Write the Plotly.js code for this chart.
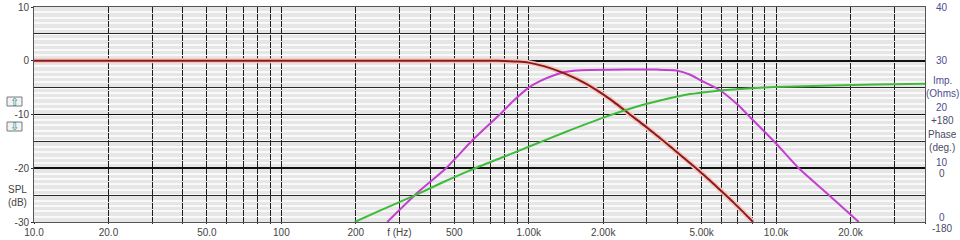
<!DOCTYPE html>
<html><head><meta charset="utf-8">
<script src="https://cdn.plot.ly/plotly-3.0.1.min.js"></script>
<style>html,body{margin:0;padding:0;background:#fff}#chart{width:960px;height:240px}</style>
</head><body><div id="chart"></div>
<script>
// ---- data ----
const xTickVals = [10,20,30,40,50,60,70,80,90,100,200,300,400,500,600,700,800,900,1000,2000,3000,4000,5000,6000,7000,8000,9000,10000,20000,30000,40000];
const xTickText = ['10.0','20.0','','','50.0','','','','','100','200','f (Hz)','','500','','','','','1.00k','2.00k','','','5.00k','','','','','10.0k','20.0k','',''];
const splTickVals = [-30,-20,-10,0,10];
const splTickText = ['-30','-20','-10','0','10'];
const splHalfTicks = [-25,-15,-5,5];
const impTickVals = [0,10,20,30,40];
const impTickText = ['0','10','20','30','40'];
const phaseTickAt = [0,10,20];
const phaseTickText = ['-180','0','+180'];

// red: low-pass SPL (dB)
const redFreq = [10,200,500,700,800,900,1000,1150,1370,1600,1875,2200,2550,3000,3460,4000,4750,5500,6460,7200,8070];
const redSpl  = [0,0,0,0,-0.05,-0.15,-0.35,-1.0,-2.2,-3.6,-5.4,-7.6,-9.9,-12.4,-14.7,-17.1,-20,-22.6,-25.6,-27.7,-30];
// magenta: band-pass SPL (dB)
const magFreq = [268,352,463,592,760,870,1000,1100,1250,1400,1550,1750,2500,3300,3950,4500,4890,5890,7000,7930,10000,12360,16000,21600];
const magSpl  = [-30,-24.7,-20,-14.8,-10.1,-7.4,-5.0,-3.9,-2.8,-2.1,-1.8,-1.7,-1.65,-1.65,-1.8,-2.6,-3.5,-5.4,-8.2,-10.7,-15.4,-20,-24.6,-30];
// green: impedance (Ohms)
const grnFreq = [198,250,352,450,592,780,1000,1400,2055,2700,3460,4500,5500,6460,7960,10000,16800,25000,40000];
const grnImp  = [0,2.1,5.1,7.4,9.8,12.0,14.0,16.7,19.6,21.4,22.7,23.8,24.3,24.6,24.9,25.1,25.4,25.6,25.7];

// ---- layout helpers ----
const W = 960, H = 240;
const M = {l:34, r:35, t:7, b:18};
const PW = W - M.l - M.r, PH = H - M.t - M.b;
const px2x = p => (p - M.l) / PW;
const px2y = p => 1 - (p - M.t) / PH;
const FONT = 'Liberation Sans, Arial, sans-serif';

const traces = [
  {x:[10], y:[null], yaxis:'y3', type:'scatter', mode:'lines', hoverinfo:'skip'},
  {x: redFreq, y: redSpl, type:'scatter', mode:'lines', line:{color:'#f3c6c6', width:5, shape:'spline', smoothing:0.6}, hoverinfo:'skip'},
  {x: magFreq, y: magSpl, type:'scatter', mode:'lines', line:{color:'#c23fcf', width:2, shape:'spline', smoothing:0.6}},
  {x: redFreq, y: redSpl, type:'scatter', mode:'lines', line:{color:'#8c1a14', width:2, shape:'spline', smoothing:0.6}},
  {x: grnFreq, y: grnImp, yaxis:'y2', type:'scatter', mode:'lines', line:{color:'#3fbb3a', width:2, shape:'spline', smoothing:0.6}}
];

const annotations = [];
annotations.push({xref:'paper', yref:'paper', x:px2x(17), y:px2y(196), text:'SPL<br>(dB)', showarrow:false,
  font:{family:FONT, size:10, color:'#444'}, xanchor:'center', yanchor:'middle'});
const impShift = [5,6,7,0,0];
impTickVals.forEach((v,i)=>annotations.push({xref:'paper', yref:'y2', x:px2x(942), y:v, yshift:impShift[i],
  text:impTickText[i], showarrow:false, font:{family:FONT, size:10, color:'#4d4d8f'}, xanchor:'center', yanchor:'middle'}));
const phShift = [-6,-5,-6];
phaseTickAt.forEach((v,i)=>annotations.push({xref:'paper', yref:'y2', x:px2x(942), y:v, yshift:phShift[i],
  text:phaseTickText[i], showarrow:false, font:{family:FONT, size:10, color:'#4a4a66'}, xanchor:'center', yanchor:'middle'}));
annotations.push({xref:'paper', yref:'paper', x:px2x(942), y:px2y(87), text:'Imp.<br>(Ohms)', showarrow:false,
  font:{family:FONT, size:10, color:'#4d4d8f'}, xanchor:'center', yanchor:'middle'});
annotations.push({xref:'paper', yref:'paper', x:px2x(942), y:px2y(141), text:'Phase<br>(deg.)', showarrow:false,
  font:{family:FONT, size:10, color:'#4a4a66'}, xanchor:'center', yanchor:'middle'});
annotations.push({xref:'paper', yref:'paper', x:px2x(14.5), y:px2y(102), text:'⇧', showarrow:false,
  font:{family:'DejaVu Sans', size:11, color:'#158a8a'}, xanchor:'center', yanchor:'middle'});
annotations.push({xref:'paper', yref:'paper', x:px2x(14.5), y:px2y(126), text:'⇩', showarrow:false,
  font:{family:'DejaVu Sans', size:11, color:'#158a8a'}, xanchor:'center', yanchor:'middle'});

const shapes = [
  {type:'rect', xref:'paper', yref:'paper', x0:px2x(7), x1:px2x(22), y0:px2y(106), y1:px2y(97), fillcolor:'#f2f2f2', line:{color:'#7a7a7a', width:1}},
  {type:'rect', xref:'paper', yref:'paper', x0:px2x(7), x1:px2x(22), y0:px2y(131), y1:px2y(122), fillcolor:'#f2f2f2', line:{color:'#7a7a7a', width:1}}
];

const layout = {
  width: W, height: H,
  margin: M,
  paper_bgcolor:'#ffffff', plot_bgcolor:'#e6e6e6',
  showlegend:false,
  font:{family:FONT, size:10, color:'#444'},
  xaxis:{type:'log', range:[1, Math.log10(40000)], tickmode:'array', tickvals:xTickVals, ticktext:xTickText,
    showgrid:true, gridcolor:'#1e1e1e', gridwidth:1, griddash:'6px,1px',
    ticks:'outside', ticklen:1, tickcolor:'#333', showline:true, linecolor:'#555', mirror:true, zeroline:false,
    tickfont:{family:FONT, size:10, color:'#444'}},
  yaxis:{range:[-30,10], tickmode:'array', tickvals:splTickVals, ticktext:splTickText,
    showgrid:true, gridcolor:'#111', gridwidth:1.6, zeroline:false,
    minor:{tickmode:'linear', tick0:0, dtick:1, showgrid:true, gridcolor:'#f9f9f9', gridwidth:2, ticks:''},
    ticks:'outside', ticklen:2, tickcolor:'#333', showline:true, linecolor:'#555', mirror:true,
    tickfont:{family:FONT, size:10, color:'#444'}},
  yaxis3:{overlaying:'y', anchor:'x', side:'left', range:[-30,10], tickmode:'array', tickvals:splHalfTicks,
    showticklabels:false, ticks:'', showgrid:true, gridcolor:'#2a2a2a', gridwidth:1, zeroline:false, showline:false},
  yaxis2:{overlaying:'y', anchor:'x', side:'right', range:[0,40], showticklabels:false, ticks:'',
    showgrid:false, zeroline:false, showline:false},
  annotations, shapes
};

Plotly.newPlot('chart', traces, layout, {staticPlot:true, displayModeBar:false});
</script>
</body></html>
